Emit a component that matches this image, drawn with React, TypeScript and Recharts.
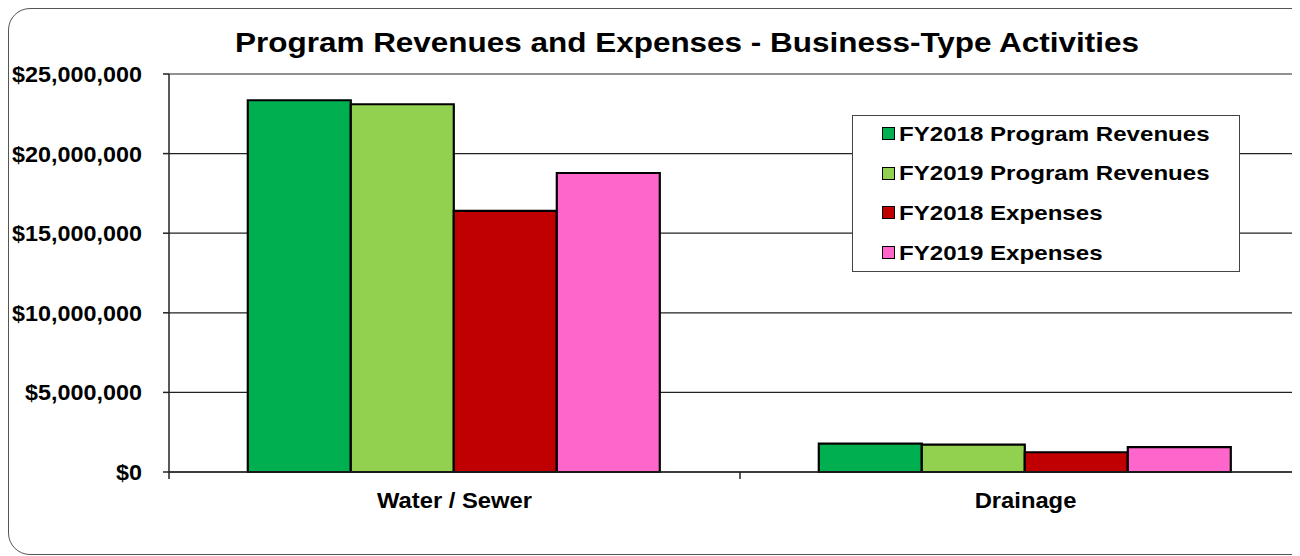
import { BarChart, Bar, XAxis, YAxis, CartesianGrid } from 'recharts';

const categories = ['Water / Sewer', 'Drainage'];
const fy2018Revenues = [23350000, 1780000];
const fy2019Revenues = [23100000, 1720000];
const fy2018Expenses = [16400000, 1240000];
const fy2019Expenses = [18780000, 1560000];
const yTicks = [0, 5000000, 10000000, 15000000, 20000000, 25000000];

const seriesList = [
  { key: 'fy18rev', name: 'FY2018 Program Revenues', color: '#00B050', values: fy2018Revenues },
  { key: 'fy19rev', name: 'FY2019 Program Revenues', color: '#92D050', values: fy2019Revenues },
  { key: 'fy18exp', name: 'FY2018 Expenses', color: '#C00000', values: fy2018Expenses },
  { key: 'fy19exp', name: 'FY2019 Expenses', color: '#FF66CC', values: fy2019Expenses },
];

const chartData = categories.map((name, i) => {
  const row: Record<string, string | number> = { name };
  seriesList.forEach(s => {
    row[s.key] = s.values[i];
  });
  return row;
});

const FONT = '"Liberation Sans", Arial, sans-serif';
const CHART_W = 1320;
const CHART_H = 548;
const MARGIN = { top: 66, right: 17, left: 0, bottom: 44 };
const Y_AXIS_W = 161;
const halfBand = (CHART_W - MARGIN.right - Y_AXIS_W) / categories.length / 2;

const fmtMoney = (v: number) => '$' + v.toLocaleString('en-US');

// the source picture is a bit stretched sideways, so text gets a scaleX
const CategoryTick = ({ x, y, payload }: any) => (
  <g>
    <line x1={x - halfBand} x2={x - halfBand} y1={y - 8} y2={y - 1} stroke="#222" strokeWidth={1.5} />
    <text
      transform={`translate(${x} ${y + 28}) scale(1.057 1)`}
      textAnchor="middle"
      fontFamily={FONT}
      fontWeight="bold"
      fontSize={22.5}
      fill="#000"
    >
      {payload.value}
    </text>
  </g>
);

const MoneyTick = ({ x, y, payload }: any) => (
  <text
    transform={`translate(${x} ${y}) scale(1.062 1)`}
    dy="0.36em"
    textAnchor="end"
    fontFamily={FONT}
    fontWeight="bold"
    fontSize={22}
    fill="#000"
  >
    {fmtMoney(payload.value)}
  </text>
);

const LegendBox = () => (
  <div
    style={{
      position: 'absolute',
      left: 844,
      top: 107,
      width: 388,
      height: 157,
      border: '1.5px solid #444',
      background: '#fff',
      boxSizing: 'border-box',
    }}
  >
    {seriesList.map((s, i) => (
      <div key={s.key}>
        <span
          style={{
            position: 'absolute',
            left: 29,
            top: 11 + i * 39.7,
            width: 13,
            height: 13,
            background: s.color,
            border: '1.5px solid #000',
            boxSizing: 'border-box',
          }}
        />
        <span
          style={{
            position: 'absolute',
            left: 46,
            top: 7.5 + i * 39.7,
            whiteSpace: 'nowrap',
            fontFamily: FONT,
            fontWeight: 'bold',
            fontSize: 20.5,
            lineHeight: 1,
            color: '#000',
            transform: 'scaleX(1.175)',
            transformOrigin: 'left center',
          }}
        >
          {s.name}
        </span>
      </div>
    ))}
  </div>
);

export default function App() {
  return (
    <div style={{ position: 'relative', width: 1292, height: 548, overflow: 'hidden', background: '#fff' }}>
      <div
        style={{
          position: 'absolute',
          left: 0,
          top: 0,
          width: 1330,
          height: 547,
          border: '1.5px solid #555',
          borderRadius: 22,
          boxSizing: 'border-box',
        }}
      />
      <div
        style={{
          position: 'absolute',
          left: 679,
          top: 21,
          whiteSpace: 'nowrap',
          fontFamily: FONT,
          fontWeight: 'bold',
          fontSize: 27.5,
          lineHeight: 1,
          color: '#000',
          transform: 'translateX(-50%) scaleX(1.144)',
        }}
      >
        Program Revenues and Expenses - Business-Type Activities
      </div>
      <div style={{ position: 'absolute', left: 0, top: 0 }}>
        <BarChart
          width={CHART_W}
          height={CHART_H}
          data={chartData}
          margin={MARGIN}
          barCategoryGap="13.8%"
          barGap={0}
        >
          <CartesianGrid vertical={false} stroke="#222" strokeWidth={1.2} />
          <XAxis
            dataKey="name"
            axisLine={{ stroke: '#222', strokeWidth: 1.5 }}
            tickLine={false}
            tick={<CategoryTick />}
            height={40}
            interval={0}
          />
          <YAxis
            width={Y_AXIS_W}
            domain={[0, 25000000]}
            ticks={yTicks}
            axisLine={{ stroke: '#222', strokeWidth: 1.5 }}
            tickLine={{ stroke: '#222', strokeWidth: 1.5 }}
            tickSize={6}
            tickMargin={21}
            tick={<MoneyTick />}
          />
          {seriesList.map(s => (
            <Bar
              key={s.key}
              dataKey={s.key}
              name={s.name}
              fill={s.color}
              stroke="#000"
              strokeWidth={2.2}
              isAnimationActive={false}
            />
          ))}
        </BarChart>
      </div>
      <LegendBox />
    </div>
  );
}
